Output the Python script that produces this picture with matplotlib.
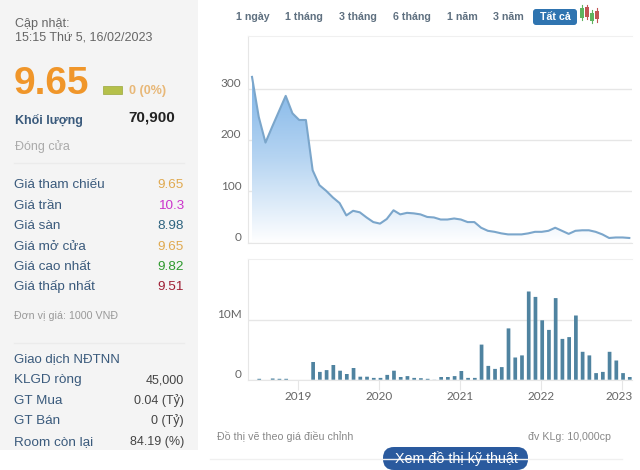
import numpy as np
import matplotlib
matplotlib.use('Agg')
import matplotlib.pyplot as plt
from matplotlib.patches import Rectangle, FancyBboxPatch
from matplotlib.transforms import ScaledTranslation

plt.rcParams['font.family'] = ['Liberation Sans', 'DejaVu Sans']

# months counted from Jan 2019
price_months = list(range(-7, 50))
price = [323, 245, 195, 226, 256, 286, 252, 239, 239, 141, 112, 101, 88, 77, 53, 62, 59, 49, 40, 37,
         46, 63, 55, 58, 57, 55, 50, 49, 45, 45, 47, 45, 40, 40, 29, 23, 21, 18, 16, 16,
         16, 18, 21, 21, 23, 29, 23, 17, 23, 24, 24, 21, 16, 9, 10, 10, 9]
vol_months = list(range(-6, 50))
volume = [0.15, 0, 0.2, 0.15, 0.15, 0, 0, 0, 2.95, 1.3, 1.6, 2.45, 1.5, 0.95, 1.95, 0.5, 0.5, 0.3, 0.3,
          0.8, 1.5, 0.45, 0.6, 0.3, 0.25, 0.15, 0.02, 0.45, 0.45, 0.6, 1.45, 0.3, 0.3, 5.85, 2.3, 1.8,
          2.1, 8.55, 3.7, 4.05, 14.7, 13.8, 9.9, 8.3, 13.6, 6.8, 7.1, 10.7, 4.65, 4.05, 1.1, 1.3, 4.65,
          3.2, 1.1, 0.45]
year_ticks = [0, 12, 24, 36, 48]
year_labels = ['2019', '2020', '2021', '2022', '2023']

range_labels = ['1 ngày', '1 tháng', '3 tháng', '6 tháng', '1 năm', '3 năm']
range_x = [236, 285, 339, 393, 447, 493]

quote_labels = ['Giá tham chiếu', 'Giá trần', 'Giá sàn', 'Giá mở cửa', 'Giá cao nhất', 'Giá thấp nhất']
quote_values = ['9.65', '10.3', '8.98', '9.65', '9.82', '9.51']
quote_colors = ['#e0a94f', '#cc33cc', '#2f6480', '#e0a94f', '#2f9a2f', '#a01f35']
foreign_labels = ['KLGD ròng', 'GT Mua', 'GT Bán', 'Room còn lại']
foreign_values = ['45,000', '0.04 (Tỷ)', '0 (Tỷ)', '84.19 (%)']

# candlestick icon next to the range buttons
icon_x = [582, 587, 592, 597]
icon_body = [(8, 18), (7, 17), (13, 21), (11, 19)]
icon_wick = [(5, 20), (5, 19), (10, 23), (8, 22)]
icon_color = ['#5fb35f', '#c25454', '#5fb35f', '#c25454']

W, H = 640, 470
LABEL = '#3a5a7c'
GRID = '#e6e6e6'
AXIS_TXT = '#666666'
AXIS_FONT = ['Lato', 'DejaVu Sans']


def axes_px(fig, x0, y0, x1, y1):
    return fig.add_axes([x0 / W, 1 - y1 / H, (x1 - x0) / W, (y1 - y0) / H])


def lift_ylabels(ax, fig):
    # y labels sit above their grid lines
    for lab in ax.get_yticklabels():
        lab.set_transform(lab.get_transform() + ScaledTranslation(0, 6 / 100, fig.dpi_scale_trans))


fig = plt.figure(figsize=(6.4, 4.7), dpi=100)

# page furniture in pixel coordinates
bg = fig.add_axes([0, 0, 1, 1])
bg.set_xlim(0, W)
bg.set_ylim(H, 0)
bg.axis('off')
bg.add_patch(Rectangle((0, 0), 198, 450, fc='#f4f4f4', ec='none'))
bg.plot([14, 184], [163, 163], color='#ebebeb', lw=1)
bg.plot([14, 184], [343, 343], color='#ebebeb', lw=1)
bg.plot([210, 622], [459, 459], color='#f0f0f0', lw=1)

bg.text(15, 27, 'Cập nhật:', fontsize=9, color='#666666', va='baseline')
bg.text(15, 41, '15:15 Thứ 5, 16/02/2023', fontsize=9, color='#666666', va='baseline')
bg.text(14, 94, '9.65', fontsize=28, fontweight='bold', color='#f0962a', va='baseline')
bg.add_patch(Rectangle((103, 86), 19, 8, fc='#b5c04a', ec='#9aa83c', lw=0.5))
bg.text(129, 94, '0 (0%)', fontsize=9, fontweight='bold', color='#e8b878', va='baseline')
bg.text(15, 124, 'Khối lượng', fontsize=9, fontweight='bold', color=LABEL, va='baseline')
bg.text(175, 122, '70,900', fontsize=11, fontweight='bold', color='#222222', va='baseline', ha='right')
bg.text(15, 150, 'Đóng cửa', fontsize=9, color='#aaaaaa', va='baseline')

for i, lab in enumerate(quote_labels):
    y = 188.3 + i * 20.4
    bg.text(14, y, lab, fontsize=9.7, color=LABEL, va='baseline')
    bg.text(184, y, quote_values[i], fontsize=9.7, color=quote_colors[i], va='baseline', ha='right')
bg.text(14, 319, 'Đơn vị giá: 1000 VNĐ', fontsize=7.7, color='#999999', va='baseline')

bg.text(14, 362.5, 'Giao dịch NĐTNN', fontsize=9.5, color=LABEL, va='baseline')
for i, lab in enumerate(foreign_labels):
    y = 383.5 + i * 20.4
    bg.text(14, y, lab, fontsize=9.7, color=LABEL, va='baseline')
    bg.text(184, y, foreign_values[i], fontsize=9, color='#444444', va='baseline', ha='right')

for x, lab in zip(range_x, range_labels):
    bg.text(x, 20, lab, fontsize=7.7, fontweight='bold', color='#5f7080', va='baseline')
bg.add_patch(FancyBboxPatch((533, 9), 44, 16, boxstyle='round,pad=0,rounding_size=3', fc='#2f74b0', ec='none'))
bg.text(555, 20, 'Tất cả', fontsize=7.7, fontweight='bold', color='white', va='baseline', ha='center')
for x, (b0, b1), (w0, w1), c in zip(icon_x, icon_body, icon_wick, icon_color):
    bg.plot([x, x], [w0, w1], color=c, lw=0.8)
    bg.add_patch(Rectangle((x - 1.8, b0), 3.6, b1 - b0, fc=c, ec='none'))

bg.text(217, 440.5, 'Đồ thị vẽ theo giá điều chỉnh', fontsize=7.7, color='#888888', va='baseline')
bg.text(611.5, 440.5, 'đv KLg: 10,000cp', fontsize=7.7, color='#888888', va='baseline', ha='right')
bg.add_patch(FancyBboxPatch((383, 447), 145, 23, boxstyle='round,pad=0,rounding_size=11', fc='#2a5a9e', ec='none',
                            clip_on=False))
bg.text(456, 463, 'Xem đồ thị kỹ thuật', fontsize=10.3, color='white', va='baseline', ha='center')

# price panel, x runs so that 2019 sits at 298.3 px and 2023 at 621.7 px
xpx = (621.7 - 298.3) / 48
xlim = ((248.3 - 298.3) / xpx, (631.7 - 298.3) / xpx)

ax1 = axes_px(fig, 248.3, 36.5, 631.7, 242.6)
ax1.patch.set_alpha(0)
ax1.set_xlim(xlim)
ax1.set_ylim(0, (242.6 - 36.5) / 0.513)
px = np.array(price_months) + 0.13
top = ax1.get_ylim()[1]
grad = np.linspace(0, 1, 256).reshape(-1, 1)
cmap = matplotlib.colors.LinearSegmentedColormap.from_list('fade', ['#ffffff', '#b7d5f2', '#7fb5e8'])
im = ax1.imshow(grad, extent=[xlim[0], xlim[1], 0, 325], origin='lower', aspect='auto', cmap=cmap, zorder=1)
poly = ax1.fill_between(px, price, 0, color='none')
im.set_clip_path(poly.get_paths()[0], transform=ax1.transData)
ax1.set_xlim(xlim)
ax1.set_ylim(0, top)
ax1.plot(px, price, color='#7ba6cb', lw=1.5, zorder=3)
ax1.set_yticks([0, 100, 200, 300])
ax1.grid(axis='y', color=GRID, lw=1)
ax1.set_axisbelow(True)
ax1.set_xticks([])
ax1.tick_params(axis='y', length=0, pad=5, labelsize=8.5, labelcolor=AXIS_TXT)
for lab in ax1.get_yticklabels():
    lab.set_family(AXIS_FONT)
lift_ylabels(ax1, fig)
ax1.spines['right'].set_visible(False)
ax1.spines['top'].set_color('#f0f0f0')
ax1.spines['left'].set_color(GRID)
ax1.spines['bottom'].set_color(GRID)

# volume panel
ax2 = axes_px(fig, 248.3, 258.7, 631.7, 379.7)
ax2.patch.set_alpha(0)
ax2.bar(np.array(vol_months) + 0.2, volume, width=0.55, color='#4f83a0', zorder=3, snap=False)
ax2.set_xlim(xlim)
ax2.set_ylim(0, 121 / 6)
ax2.set_yticks([0, 10])
ax2.set_yticklabels(['0', '10M'])
ax2.set_xticks(year_ticks)
ax2.set_xticklabels(year_labels)
ax2.grid(axis='y', color=GRID, lw=1)
ax2.set_axisbelow(True)
ax2.tick_params(axis='y', length=0, pad=5, labelsize=8.5, labelcolor=AXIS_TXT)
ax2.tick_params(axis='x', length=7, color=GRID, pad=1, labelsize=8.5, labelcolor=AXIS_TXT)
for lab in ax2.get_yticklabels() + ax2.get_xticklabels():
    lab.set_family(AXIS_FONT)
lift_ylabels(ax2, fig)
last = ax2.get_xticklabels()[-1]
last.set_transform(last.get_transform() + ScaledTranslation(-2.5 / 100, 0, fig.dpi_scale_trans))
ax2.spines['right'].set_visible(False)
ax2.spines['top'].set_color('#efefef')
ax2.spines['left'].set_color(GRID)
ax2.spines['bottom'].set_color(GRID)

fig.savefig('out.png', dpi=100)
